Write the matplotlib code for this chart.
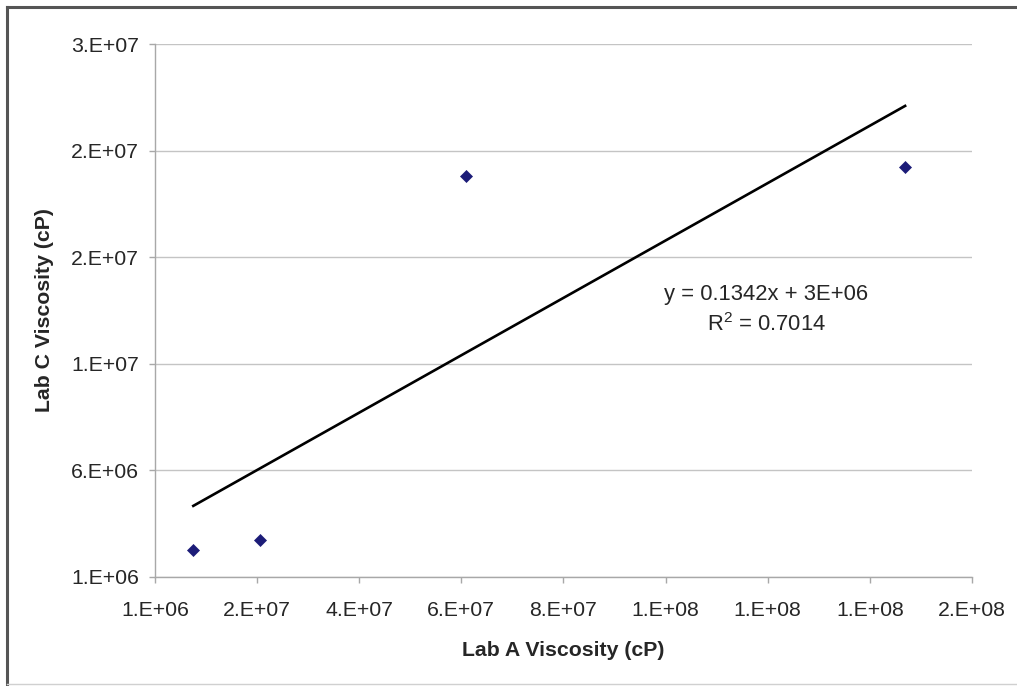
import numpy as np
import matplotlib
matplotlib.use("Agg")
import matplotlib.pyplot as plt
from matplotlib.lines import Line2D
from matplotlib.ticker import FuncFormatter

# Viscosity readings (cP)
lab_a = [8.5e6, 2.157e7, 6.19e7, 1.479e8]
lab_c = [2.27e6, 2.74e6, 1.98e7, 2.024e7]

x_ticks = [1e6, 2.1e7, 4.1e7, 6.1e7, 8.1e7, 1.01e8, 1.21e8, 1.41e8, 1.61e8]
y_ticks = [1e6, 6e6, 1.1e7, 1.6e7, 2.1e7, 2.6e7]

eq_text = "y = 0.1342x + 3E+06"
r2_text = r"R$^2$ = 0.7014"

plt.rcParams['font.family'] = ['Liberation Sans', 'DejaVu Sans']
plt.rcParams['mathtext.fontset'] = 'custom'
plt.rcParams['mathtext.rm'] = 'Liberation Sans'
plt.rcParams['mathtext.it'] = 'Liberation Sans'
plt.rcParams['mathtext.default'] = 'regular'

fig = plt.figure(figsize=(10.17, 6.86), dpi=100)
ax = fig.add_axes([155 / 1017, 1 - 577 / 686, (972 - 155) / 1017, (577 - 44) / 686])

# linear trendline fitted to the points (Excel style)
slope, icpt = np.polyfit(lab_a, lab_c, 1)
xs = np.array([min(lab_a), max(lab_a)])
ax.plot(xs, slope * xs + icpt, color='black', lw=1.9, zorder=3)

ax.plot(lab_a, lab_c, linestyle='none', marker='D', ms=6.2,
        color='#1c1c78', mec='#1c1c78', mew=0.5, zorder=4)

ax.set_xlim(x_ticks[0], x_ticks[-1])
ax.set_ylim(y_ticks[0], y_ticks[-1])
ax.set_xticks(x_ticks)
ax.set_yticks(y_ticks)
fmt = FuncFormatter(lambda v, pos: format(v, '#.0E'))
ax.xaxis.set_major_formatter(fmt)
ax.yaxis.set_major_formatter(fmt)

ax.grid(axis='y', color='#c4c4c4', lw=1.0)
ax.set_axisbelow(True)
for s in ['top', 'right']:
    ax.spines[s].set_visible(False)
for s in ['left', 'bottom']:
    ax.spines[s].set_color('#a8a8a8')
    ax.spines[s].set_linewidth(1.0)
ax.tick_params(axis='both', direction='out', length=4.5, width=1.0,
               color='#a8a8a8', labelsize=15.3, labelcolor='#262626')
ax.tick_params(axis='x', pad=12.5)
ax.tick_params(axis='y', pad=7)

ax.set_xlabel("Lab A Viscosity (cP)", fontsize=15.3, fontweight='bold', color='#262626')
ax.set_ylabel("Lab C Viscosity (cP)", fontsize=15.3, fontweight='bold', color='#262626')
ax.xaxis.set_label_coords(0.5, -0.137)
ax.xaxis.label.set_verticalalignment('center')
ax.yaxis.set_label_coords(-0.135, 0.5)
ax.yaxis.label.set_verticalalignment('center')

ax.text(1.207e8, 1.425e7, eq_text, ha='center', va='center', fontsize=15.8, color='#262626')
ax.text(1.207e8, 1.285e7, r2_text, ha='center', va='center', fontsize=15.8, color='#262626')

# outer chart frame
W, H = 1017, 686
fig.add_artist(Line2D([7 / W, 1], [1 - 7 / H, 1 - 7 / H], color='#555555', lw=2.2))
fig.add_artist(Line2D([7 / W, 7 / W], [1 - 7 / H, 1 - 684 / H], color='#555555', lw=2.2))
fig.add_artist(Line2D([7 / W, 1], [1 - 684 / H, 1 - 684 / H], color='#d0d0d0', lw=1.0))

fig.savefig("out.png", dpi=100)
